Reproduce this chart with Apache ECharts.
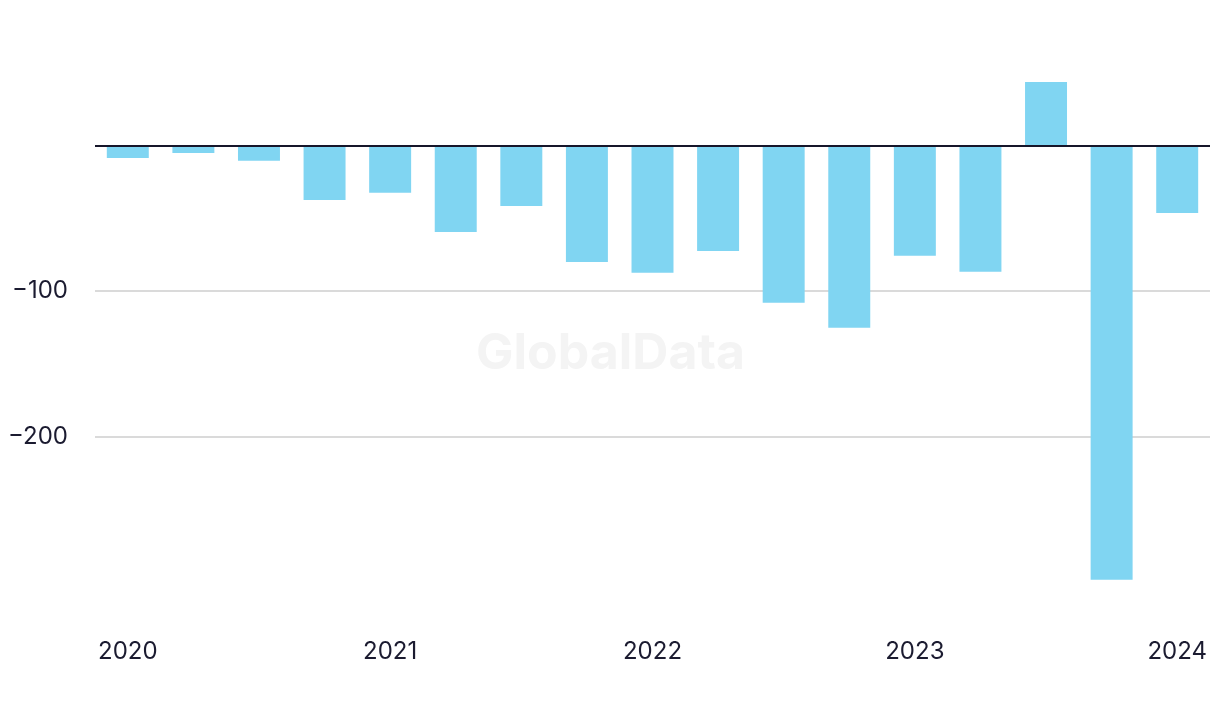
<!DOCTYPE html>
<html>
<head>
<meta charset="utf-8">
<script src="https://cdn.jsdelivr.net/npm/echarts@6/dist/echarts.min.js"></script>
<style>html,body{margin:0;padding:0;background:#fff;}#c{width:1220px;height:716px;}</style>
</head>
<body>
<div id="c"></div>
<script>
const categories = ['Q1 2020','Q2 2020','Q3 2020','Q4 2020','Q1 2021','Q2 2021','Q3 2021','Q4 2021','Q1 2022','Q2 2022','Q3 2022','Q4 2022','Q1 2023','Q2 2023','Q3 2023','Q4 2023','Q1 2024'];
const values = [-8.6, -5.2, -10.5, -37.5, -32.5, -59.5, -41.5, -80, -87.5, -72.5, -108, -125.3, -75.8, -86.8, 43.6, -298.5, -46.4];
const gridLines = [-100, -200];
const yTickLabels = {'-100': '\u2212100', '-200': '\u2212200'};

const textColor = '#1b1b30';
const chart = echarts.init(document.getElementById('c'), null, {renderer: 'canvas'});
chart.setOption({
  animation: false,
  backgroundColor: '#ffffff',
  graphic: [{
    type: 'text', left: 476, top: 329, z: 0,
    style: {text: 'GlobalData', fontFamily: 'Inter', fontWeight: 'bold', fontSize: 50, fill: '#f4f4f4'}
  }],
  grid: {left: 95, right: 10, top: 0, bottom: 134},
  xAxis: {
    type: 'category',
    data: categories,
    boundaryGap: true,
    axisLine: {show: false, onZero: false},
    axisTick: {show: false},
    splitLine: {show: false},
    axisLabel: {
      interval: 0,
      margin: 58,
      fontFamily: 'Inter',
      fontSize: 24,
      color: textColor,
      formatter: function (v) { return v.indexOf('Q1') === 0 ? v.slice(3) : ''; }
    }
  },
  yAxis: {
    type: 'value',
    min: -300, max: 100, interval: 100,
    axisLine: {show: false},
    axisTick: {show: false},
    splitLine: {show: false},
    axisLabel: {
      margin: 27,
      fontFamily: 'Inter',
      fontSize: 24,
      color: textColor,
      formatter: function (v) { return yTickLabels[String(v)] || ''; }
    }
  },
  series: [{
    type: 'bar',
    data: [],
    z: 1,
    markLine: {
      silent: true,
      z: 1,
      symbol: 'none',
      label: {show: false},
      data: gridLines.map(v => ({yAxis: v, lineStyle: {color: '#dadada', width: 2, type: 'solid'}}))
    }
  }, {
    type: 'bar',
    data: values,
    barWidth: '64%',
    barGap: '-100%',
    itemStyle: {color: '#80d5f2'},
    z: 3,
    markLine: {
      silent: true,
      z: 5,
      symbol: 'none',
      label: {show: false},
      data: [{yAxis: 0, lineStyle: {color: '#16162a', width: 2, type: 'solid'}}]
    }
  }]
});
</script>
</body>
</html>
